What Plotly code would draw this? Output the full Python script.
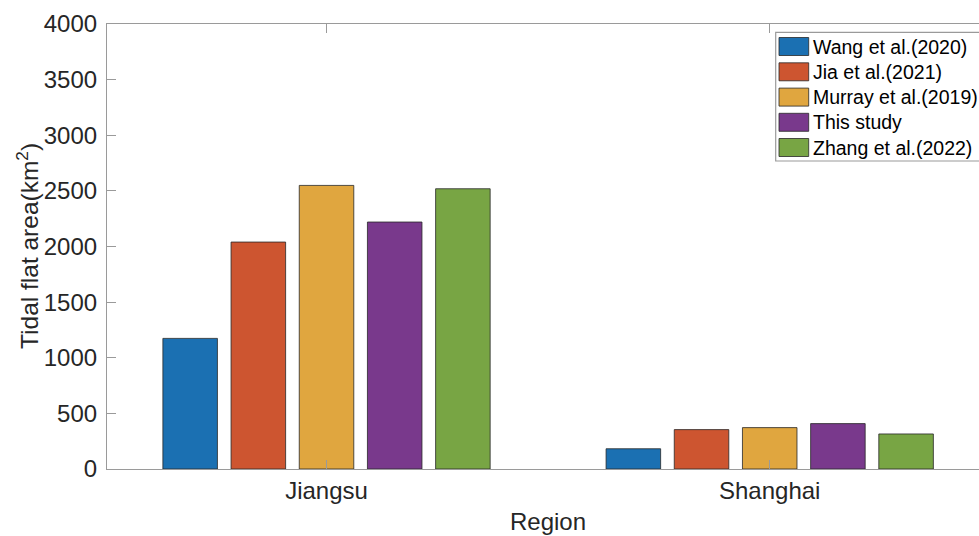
import plotly.graph_objects as go

# ---- data -------------------------------------------------------------
regions = ["Jiangsu", "Shanghai"]
sources = ["Wang et al.(2020)", "Jia et al.(2021)", "Murray et al.(2019)",
           "This study", "Zhang et al.(2022)"]
wang = [1174, 182]
jia = [2040, 354]
murray = [2549, 372]
this_study = [2220, 408]
zhang = [2519, 315]
y_ticks = [0, 500, 1000, 1500, 2000, 2500, 3000, 3500, 4000]

series = [wang, jia, murray, this_study, zhang]
colors = ["#1b70b2", "#cd5530", "#e0a63f", "#79398c", "#78a544"]
x_pos = [1, 2]

# ---- page geometry ----------------------------------------------------
W, H = 979, 536
L, T, B, R = 107, 24, 67, 0
plot_w = W - L - R
plot_h = H - T - B


def px(xpix):
    return (xpix - L) / plot_w


def py(ypix):
    return (H - B - ypix) / plot_h


FONT = "Liberation Sans, Arial, Helvetica, sans-serif"
AXIS_COL = "#9a9a9a"
TEXT_COL = "#262626"

fig = go.Figure()
for name, vals, col in zip(sources, series, colors):
    fig.add_trace(go.Bar(
        x=x_pos, y=vals, name=name,
        marker=dict(color=col, line=dict(color="rgba(40,40,40,0.8)", width=1)),
        showlegend=False,
    ))

fig.update_layout(
    width=W, height=H,
    margin=dict(l=L, r=R, t=T, b=B, pad=0),
    paper_bgcolor="white", plot_bgcolor="white",
    barmode="group", bargap=0.2308, bargroupgap=0.2,
    font=dict(family=FONT, size=24, color=TEXT_COL),
    xaxis=dict(
        range=[0.5047, 2.4722], tickvals=x_pos, ticktext=regions,
        showline=True, linecolor=AXIS_COL, linewidth=1.2, mirror="ticks",
        ticks="inside", ticklen=9, tickcolor=AXIS_COL, tickwidth=1.2,
        showgrid=False, zeroline=False,
        tickfont=dict(size=24, color=TEXT_COL, family=FONT),
    ),
    yaxis=dict(
        range=[0, 4000], tickvals=y_ticks,
        showline=True, linecolor=AXIS_COL, linewidth=1.2,
        ticks="inside", ticklen=9, tickcolor=AXIS_COL, tickwidth=1.2,
        showgrid=False, zeroline=False,
        tickfont=dict(size=24, color=TEXT_COL, family=FONT),
        ticklabelstandoff=4,
    ),
)

annotations = [
    dict(text="Tidal flat area(km<sup>2</sup>)", textangle=-90,
         xref="paper", yref="paper", x=px(28), y=py(246),
         xanchor="center", yanchor="middle", showarrow=False,
         font=dict(size=24.5, color=TEXT_COL, family=FONT)),
    dict(text="Region", xref="paper", yref="paper", x=px(548), y=py(521.5),
         xanchor="center", yanchor="middle", showarrow=False,
         font=dict(size=24, color=TEXT_COL, family=FONT)),
]

# legend box with colour patches
shapes = [dict(type="rect", xref="paper", yref="paper",
               x0=px(775.7), x1=px(995), y0=py(161), y1=py(32.3),
               line=dict(color=AXIS_COL, width=1.2), fillcolor="white",
               layer="above")]
row_y = [46.5, 71.8, 97.1, 122.3, 147.5]
for name, col, ry in zip(sources, colors, row_y):
    shapes.append(dict(type="rect", xref="paper", yref="paper",
                       x0=px(779), x1=px(808.7), y0=py(ry + 9), y1=py(ry - 9),
                       line=dict(color="rgba(40,40,40,0.8)", width=1),
                       fillcolor=col, layer="above"))
    annotations.append(dict(text=name, xref="paper", yref="paper",
                            x=px(810.5), y=py(ry), xanchor="left", yanchor="middle",
                            showarrow=False,
                            font=dict(size=19.5, color="#000000", family=FONT)))

fig.update_layout(shapes=shapes, annotations=annotations)

fig.write_html("out.html")
